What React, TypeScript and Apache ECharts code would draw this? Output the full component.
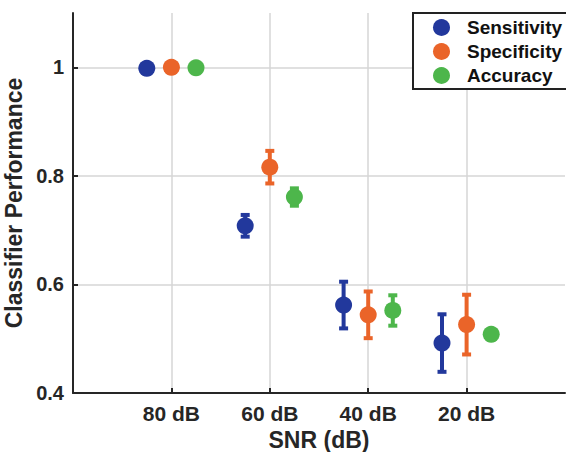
import React, { useEffect, useRef } from "react";
import * as echarts from "echarts";

const categories = ["80 dB", "60 dB", "40 dB", "20 dB"];
const seriesNames = ["Sensitivity", "Specificity", "Accuracy"];
const sensitivity = [0.998, 0.708, 0.562, 0.492];
const sensitivityErr = [0, 0.02, 0.043, 0.053];
const specificity = [1.0, 0.816, 0.544, 0.526];
const specificityErr = [0, 0.03, 0.043, 0.055];
const accuracy = [0.999, 0.761, 0.552, 0.508];
const accuracyErr = [0, 0.016, 0.028, 0];
const yTicks = [0.4, 0.6, 0.8, 1];
const xTicks = [1, 2, 3, 4];

const colors = ["#22389c", "#ea6429", "#4db64b"];
const offsets = [-0.25, 0, 0.25];
const FONT = "'Liberation Sans', Arial, Helvetica, sans-serif";

export default function App() {
  const ref = useRef<HTMLDivElement>(null);
  useEffect(() => {
    document.body.style.margin = "0";
    if (!ref.current) return;
    const chart = echarts.init(ref.current, null, { renderer: "svg" });
    const values = [sensitivity, specificity, accuracy];
    const errs = [sensitivityErr, specificityErr, accuracyErr];

    const series: any[] = [];
    values.forEach((vals, s) => {
      const errData = vals.map((v, i) => [i + 1 + offsets[s], v - errs[s][i], v + errs[s][i]]);
      series.push({
        type: "custom",
        silent: true,
        z: 2,
        data: errData,
        encode: { x: 0, y: [1, 2] },
        renderItem: (params: any, api: any) => {
          const x = api.value(0);
          const lo = api.coord([x, api.value(1)]);
          const hi = api.coord([x, api.value(2)]);
          if (Math.abs(lo[1] - hi[1]) < 1) return { type: "group", children: [] };
          const capW = 9;
          const capH = 4;
          return {
            type: "group",
            children: [
              {
                type: "line",
                shape: { x1: lo[0], y1: lo[1], x2: hi[0], y2: hi[1] },
                style: { stroke: colors[s], lineWidth: 4 },
              },
              {
                type: "rect",
                shape: { x: lo[0] - capW / 2, y: lo[1] - capH / 2, width: capW, height: capH },
                style: { fill: colors[s] },
              },
              {
                type: "rect",
                shape: { x: hi[0] - capW / 2, y: hi[1] - capH / 2, width: capW, height: capH },
                style: { fill: colors[s] },
              },
            ],
          };
        },
      });
      series.push({
        name: seriesNames[s],
        type: "scatter",
        z: 3,
        symbol: "circle",
        symbolSize: 17,
        itemStyle: { color: colors[s], opacity: 1 },
        data: vals.map((v, i) => [i + 1 + offsets[s], v]),
      });
    });

    chart.setOption({
      animation: false,
      textStyle: { fontFamily: FONT },
      grid: { left: 73, right: 1, top: 13, bottom: 59, containLabel: false, outerBoundsMode: "none" },
      legend: {
        data: seriesNames.map((n, i) => ({ name: n, itemStyle: { color: colors[i] } })),
        orient: "vertical",
        left: 413,
        top: 13,
        icon: "circle",
        itemWidth: 17,
        itemHeight: 17,
        itemGap: 5,
        padding: [5, 8, 4, 20],
        borderColor: "#222",
        borderWidth: 2,
        backgroundColor: "#fff",
        selectedMode: false,
        textStyle: {
          fontFamily: FONT,
          fontSize: 19,
          fontWeight: "bold",
          color: "#111",
          padding: [0, 0, 0, 12],
          lineHeight: 17,
        },
      },
      xAxis: {
        type: "value",
        min: 0,
        max: 5,
        interval: 1,
        name: "SNR (dB)",
        nameLocation: "middle",
        nameGap: 34,
        nameTextStyle: { fontFamily: FONT, fontSize: 23, fontWeight: "bold", color: "#262626" },
        axisLine: { show: true, onZero: false, lineStyle: { color: "#262626", width: 2 } },
        axisTick: {
          show: true,
          inside: true,
          length: 5,
          customValues: xTicks,
          lineStyle: { color: "#262626", width: 2 },
        },
        axisLabel: {
          customValues: xTicks,
          formatter: (v: number) => categories[Math.round(v) - 1] ?? "",
          fontFamily: FONT,
          fontSize: 21,
          fontWeight: "bold",
          color: "#262626",
          margin: 10,
        },
        splitLine: {
          show: true,
          lineStyle: { color: "#d6d6d6", width: 1.5 },
        },
      },
      yAxis: {
        type: "value",
        min: 0.4,
        max: 1.1,
        interval: 0.2,
        name: "Classifier Performance",
        nameLocation: "middle",
        nameGap: 31,
        nameTextStyle: { fontFamily: FONT, fontSize: 23, fontWeight: "bold", color: "#262626" },
        axisLine: { show: true, lineStyle: { color: "#262626", width: 2 } },
        axisTick: {
          show: true,
          inside: true,
          length: 5,
          customValues: yTicks,
          lineStyle: { color: "#262626", width: 2 },
        },
        axisLabel: {
          customValues: yTicks,
          formatter: (v: number) => (Math.abs(v - 1) < 1e-9 ? "1" : v.toFixed(1)),
          fontFamily: FONT,
          fontSize: 20,
          fontWeight: "bold",
          color: "#262626",
          margin: 9,
        },
        splitLine: {
          show: true,
          lineStyle: { color: "#d6d6d6", width: 1.5 },
        },
      },
      series,
    });
    return () => chart.dispose();
  }, []);
  return <div ref={ref} style={{ width: 566, height: 452 }} />;
}
